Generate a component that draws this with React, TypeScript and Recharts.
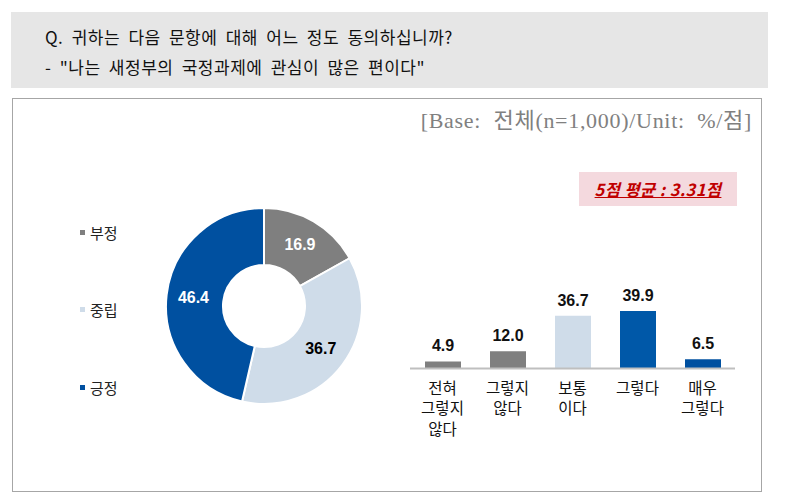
import React from "react";
import { PieChart, Pie, Cell, BarChart, Bar, XAxis, YAxis, LabelList } from "recharts";

const groupNames = ["부정", "중립", "긍정"];
const groupValues = [16.9, 36.7, 46.4];
const groupColors = ["#7f7f7f", "#cfdce9", "#0050a0"];
const groupLabelColors = ["#ffffff", "#000000", "#ffffff"];

const answerLabels = ["전혀\n그렇지\n않다", "그렇지\n않다", "보통\n이다", "그렇다", "매우\n그렇다"];
const answerValues = [4.9, 12.0, 36.7, 39.9, 6.5];
const answerColors = ["#7f7f7f", "#7f7f7f", "#cfdce9", "#0058a8", "#0050a0"];

const titleLine1 = "Q. 귀하는 다음 문항에 대해 어느 정도 동의하십니까?";
const titleLine2 = "- \"나는 새정부의 국정과제에 관심이 많은 편이다\"";
const baseNote = "[Base:  전체(n=1,000)/Unit:  %/점]";
const avgNote = "5점 평균 : 3.31점";

const pieData = groupNames.map((name, i) => ({ name, value: groupValues[i] }));
const barData = answerLabels.map((label, i) => ({ label, value: answerValues[i] }));

const KR = "'Noto Sans CJK KR', 'Liberation Sans', sans-serif";
const NUM = "'Liberation Sans', Arial, sans-serif";

const RAD = Math.PI / 180;

const renderPieLabel = (props: any) => {
  const { cx, cy, midAngle, index } = props;
  const r = 71;
  const x = cx + r * Math.cos(-midAngle * RAD);
  const y = cy + r * Math.sin(-midAngle * RAD);
  return (
    <text x={x} y={y} textAnchor="middle" dominantBaseline="central" fill={groupLabelColors[index]}
      style={{ fontFamily: NUM, fontWeight: 700, fontSize: 16 }}>
      {groupValues[index].toFixed(1)}
    </text>
  );
};

const AxisTick = (props: any) => {
  const { x, y, payload } = props;
  const lines = String(payload.value).split("\n");
  return (
    <text x={x} y={y} textAnchor="middle" fill="#111" style={{ fontFamily: KR, fontSize: 15.5 }}>
      {lines.map((l, i) => (
        <tspan key={i} x={x} y={y + 10 + i * 20.5} dominantBaseline="central">{l}</tspan>
      ))}
    </text>
  );
};

export default function App() {
  return (
    <div style={{ position: "absolute", left: 0, top: 0, width: 795, height: 503, background: "#fff" }}>
      <div style={{ position: "absolute", left: 11, top: 12, width: 757, height: 76, background: "#e6e6e6" }} />
      <div style={{ position: "absolute", left: 45, top: 22, fontFamily: KR, fontSize: 17, color: "#111", lineHeight: "30px", whiteSpace: "pre", wordSpacing: 4, letterSpacing: 0.5 }}>
        <div>{titleLine1}</div>
        <div>{titleLine2}</div>
      </div>
      <div style={{ position: "absolute", left: 12, top: 98, width: 750, height: 394, border: "1.5px solid #a6a6a6", boxSizing: "border-box" }} />
      <div style={{ position: "absolute", right: 43, top: 106, fontFamily: "'Liberation Serif', 'Noto Sans CJK KR', serif", fontSize: 22, color: "#808080", whiteSpace: "pre", lineHeight: "30px", letterSpacing: 0.7 }}>
        {baseNote}
      </div>
      <div style={{ position: "absolute", left: 579, top: 172, width: 158, height: 34, background: "#f4d9de", display: "flex", alignItems: "center", justifyContent: "center" }}>
        <span style={{ fontFamily: KR, fontSize: 16.5, fontWeight: 700, fontStyle: "italic", textDecoration: "underline", color: "#c00000", letterSpacing: 0.4 }}>{avgNote}</span>
      </div>

      <div style={{ position: "absolute", left: 80, top: 221, fontFamily: KR, fontSize: 15, color: "#222" }}>
        {groupNames.map((n, i) => (
          <div key={n} style={{ display: "flex", alignItems: "center", height: 22, marginBottom: i < 2 ? 55.5 : 0 }}>
            <span style={{ display: "inline-block", width: 5, height: 5, background: groupColors[i], marginRight: 5 }} />
            <span>{n}</span>
          </div>
        ))}
      </div>

      <div style={{ position: "absolute", left: 0, top: 160 }}>
        <PieChart width={400} height={300} margin={{ top: 0, right: 0, bottom: 0, left: 0 }}>
          <Pie data={pieData} dataKey="value" nameKey="name" cx={264} cy={146} innerRadius={41} outerRadius={98}
            startAngle={90} endAngle={-270} stroke="#ffffff" strokeWidth={2} isAnimationActive={false}
            label={renderPieLabel} labelLine={false}>
            {pieData.map((d, i) => (<Cell key={d.name} fill={groupColors[i]} />))}
          </Pie>
        </PieChart>
      </div>

      <div style={{ position: "absolute", left: 400, top: 250 }}>
        <BarChart width={360} height={220} data={barData} margin={{ top: 46.5, right: 25, left: 10, bottom: 0 }}>
          <YAxis hide domain={[0, 50]} />
          <XAxis dataKey="label" axisLine={{ stroke: "#bfbfbf", strokeWidth: 2 }} tickLine={false}
            tick={<AxisTick />} interval={0} height={101.5} />
          <Bar dataKey="value" barSize={36} isAnimationActive={false}>
            {barData.map((d, i) => (<Cell key={i} fill={answerColors[i]} />))}
            <LabelList dataKey="value" position="top" offset={10}
              formatter={(v: any) => Number(v).toFixed(1)}
              style={{ fontFamily: NUM, fontWeight: 700, fontSize: 16, fill: "#111" }} />
          </Bar>
        </BarChart>
      </div>
    </div>
  );
}
